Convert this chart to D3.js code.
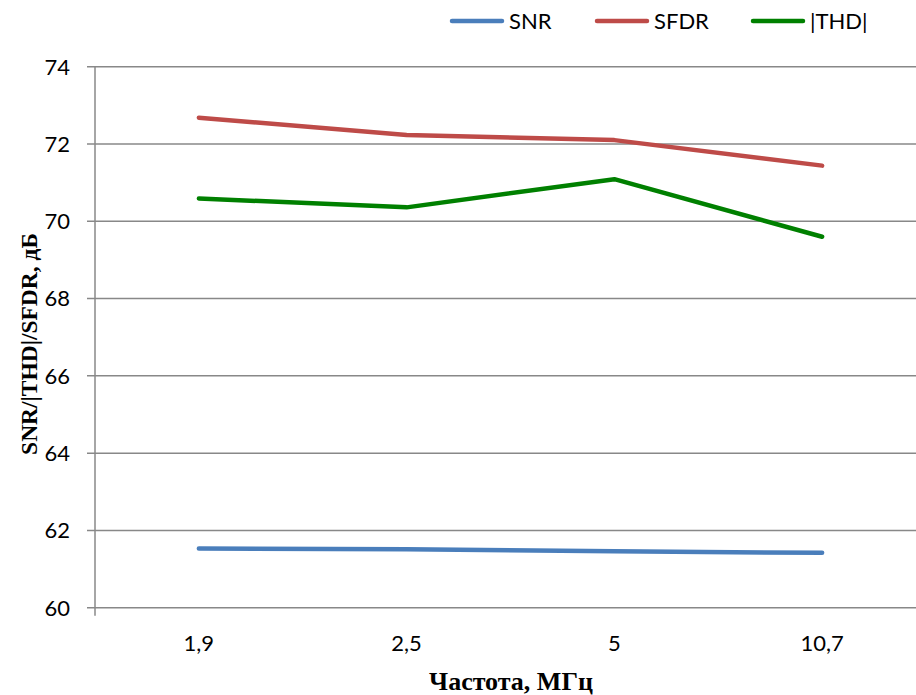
<!DOCTYPE html>
<html>
<head>
<meta charset="utf-8">
<script src="https://cdn.jsdelivr.net/npm/d3@7"></script>
<style>
  html, body { margin: 0; padding: 0; background: #fff; }
  svg { display: block; }
</style>
</head>
<body>
<div id="chart"></div>
<script>
// Chart data
const categories = ["1,9", "2,5", "5", "10,7"];
const snrValues = [61.53, 61.51, 61.46, 61.42];
const sfdrValues = [72.68, 72.23, 72.10, 71.44];
const thdValues = [70.59, 70.36, 71.09, 69.60];
const yTicks = [60, 62, 64, 66, 68, 70, 72, 74];

const series = [
    { name: "SNR", values: snrValues, color: "#4a7ebb" },
    { name: "SFDR", values: sfdrValues, color: "#be4b48" },
    { name: "|THD|", values: thdValues, color: "#008000" }
];

const W = 916, H = 695;
const plotLeft = 95, plotRight = 926, plotTop = 66.7, plotBottom = 607.7;

const svg = d3.select("#chart").append("svg")
    .attr("width", W)
    .attr("height", H);

const x = d3.scaleBand().domain(categories).range([plotLeft, plotRight]);
const y = d3.scaleLinear().domain([60, 74]).range([plotBottom, plotTop]);

// Gridlines
svg.append("g")
    .selectAll("line")
    .data(yTicks)
    .enter()
    .append("line")
    .attr("x1", plotLeft - 8)
    .attr("x2", W)
    .attr("y1", d => y(d))
    .attr("y2", d => y(d))
    .attr("stroke", "#888")
    .attr("stroke-width", 1.5);

// Y axis line
svg.append("line")
    .attr("x1", plotLeft).attr("x2", plotLeft)
    .attr("y1", plotTop).attr("y2", plotBottom + 8)
    .attr("stroke", "#888")
    .attr("stroke-width", 1.5);

// Y tick labels
svg.append("g")
    .selectAll("text")
    .data(yTicks)
    .enter()
    .append("text")
    .attr("x", plotLeft - 25)
    .attr("y", d => y(d))
    .attr("dy", "0.36em")
    .attr("text-anchor", "end")
    .attr("font-family", "Lato, 'Open Sans', sans-serif")
    .attr("font-size", 22)
    .attr("fill", "#000")
    .text(d => d);

// X tick labels
svg.append("g")
    .selectAll("text")
    .data(categories)
    .enter()
    .append("text")
    .attr("x", d => x(d) + x.bandwidth() / 2)
    .attr("y", plotBottom + 43)
    .attr("text-anchor", "middle")
    .attr("font-family", "Lato, 'Open Sans', sans-serif")
    .attr("font-size", 22)
    .attr("fill", "#000")
    .text(d => d);

// Lines
const line = d3.line()
    .x((d, i) => x(categories[i]) + x.bandwidth() / 2)
    .y(d => y(d));

svg.append("g")
    .selectAll("path")
    .data(series)
    .enter()
    .append("path")
    .attr("d", d => line(d.values))
    .attr("fill", "none")
    .attr("stroke", d => d.color)
    .attr("stroke-width", 4.5)
    .attr("stroke-linecap", "round")
    .attr("stroke-linejoin", "round");

// Legend
const legendX = [450, 595, 751];
const legend = svg.append("g")
    .selectAll("g")
    .data(series)
    .enter()
    .append("g")
    .attr("transform", (d, i) => `translate(${legendX[i]},21)`);

legend.append("line")
    .attr("x1", 2).attr("x2", 52)
    .attr("stroke", d => d.color)
    .attr("stroke-width", 4.5)
    .attr("stroke-linecap", "round");

legend.append("text")
    .attr("x", 59)
    .attr("dy", "0.36em")
    .attr("font-family", "Lato, 'Open Sans', sans-serif")
    .attr("font-size", 22)
    .attr("fill", "#000")
    .text(d => d.name);

// Axis titles
svg.append("text")
    .attr("transform", `translate(37,344) rotate(-90)`)
    .attr("text-anchor", "middle")
    .attr("font-family", "'Liberation Serif', 'DejaVu Serif', serif")
    .attr("font-weight", "bold")
    .attr("font-size", 23.5)
    .attr("fill", "#000")
    .text("SNR/|THD|/SFDR, дБ");

svg.append("text")
    .attr("x", 511)
    .attr("y", 690)
    .attr("text-anchor", "middle")
    .attr("font-family", "'Liberation Serif', 'DejaVu Serif', serif")
    .attr("font-weight", "bold")
    .attr("font-size", 26)
    .attr("fill", "#000")
    .text("Частота, МГц");
</script>
</body>
</html>
